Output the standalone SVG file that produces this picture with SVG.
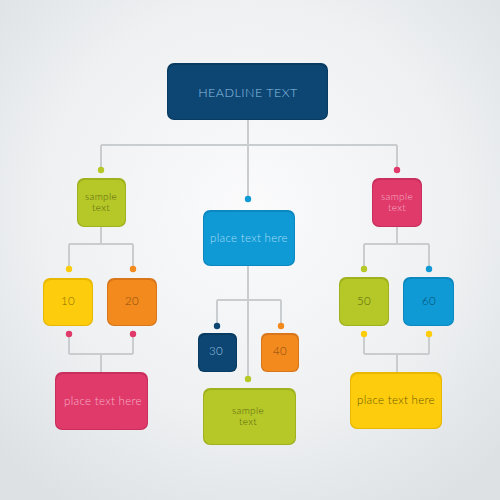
<svg xmlns="http://www.w3.org/2000/svg" width="500" height="500" viewBox="0 0 500 500">
<defs>
<radialGradient id="bg" cx="0.5" cy="0.42" r="0.7">
<stop offset="0" stop-color="#fbfbfc"/>
<stop offset="0.6" stop-color="#eef0f2"/>
<stop offset="1" stop-color="#dde1e4"/>
</radialGradient>
</defs>
<style>
.ln{stroke:#c9cdd0;stroke-width:2;fill:none}
text{font-family:Lato,"Open Sans","Liberation Sans",sans-serif;text-anchor:middle;font-weight:300}
.t9{font-size:10px;letter-spacing:0.3px}
.t10{font-size:11.5px;letter-spacing:0.3px}
</style>
<rect width="500" height="500" fill="url(#bg)"/>
<g id="connectors">
<path class="ln" d="M248 120V199M101 145H397M101 145V170M397 145V170"/>
<path class="ln" d="M101 227V244M69 244H133M69 244V269M133 244V269"/>
<path class="ln" d="M397 227V244M364 244H429M364 244V269M429 244V269"/>
<path class="ln" d="M248 266V379M217 300H281M217 300V326M281 300V326"/>
<path class="ln" d="M69 334V354M133 334V354M69 354H133M101 354V372"/>
<path class="ln" d="M364 334V354M429 334V354M364 354H429M397 354V372"/>
<circle cx="101" cy="170" r="3.2" fill="#b5c827"/>
<circle cx="248" cy="199" r="3.2" fill="#0f9ad6"/>
<circle cx="397" cy="170" r="3.2" fill="#e03a6b"/>
<circle cx="69" cy="269" r="3.2" fill="#fdcc0c"/>
<circle cx="133" cy="269" r="3.2" fill="#f28a1d"/>
<circle cx="364" cy="269" r="3.2" fill="#b5c827"/>
<circle cx="429" cy="269" r="3.2" fill="#0f9ad6"/>
<circle cx="69" cy="334" r="3.2" fill="#e03a6b"/>
<circle cx="133" cy="334" r="3.2" fill="#e03a6b"/>
<circle cx="364" cy="334" r="3.2" fill="#fdcc0c"/>
<circle cx="429" cy="334" r="3.2" fill="#fdcc0c"/>
<circle cx="217" cy="326" r="3.2" fill="#0d4673"/>
<circle cx="281" cy="326" r="3.2" fill="#f28a1d"/>
<circle cx="248" cy="379" r="3.2" fill="#b5c827"/>
</g>
<g id="headline">
<rect x="167" y="63" width="161" height="57" rx="7" fill="#083b61"/>
<rect x="168" y="65" width="159" height="54" rx="7" fill="#0d4673"/>
<text x="248" y="97" font-size="12.5" fill="#8ec0e2" style="letter-spacing:0.5px">HEADLINE TEXT</text>
</g>
<g id="n-left">
<rect x="77" y="178" width="49" height="49" rx="7" fill="#9fb21e"/>
<rect x="78" y="180" width="47" height="46" rx="7" fill="#b5c827"/>
<text class="t9" x="101" y="200" fill="#5a6610">sample</text>
<text class="t9" x="101" y="211" fill="#5a6610">text</text>
</g>
<g id="n-center">
<rect x="203" y="210" width="92" height="56" rx="7" fill="#0b88c0"/>
<rect x="204" y="212" width="90" height="53" rx="7" fill="#0f9ad6"/>
<text class="t10" x="249" y="242" fill="#a8dcf4">place text here</text>
</g>
<g id="n-right">
<rect x="372" y="178" width="50" height="49" rx="7" fill="#c92f5d"/>
<rect x="373" y="180" width="48" height="46" rx="7" fill="#e03a6b"/>
<text class="t9" x="397" y="200" fill="#f6b0c6">sample</text>
<text class="t9" x="397" y="211" fill="#f6b0c6">text</text>
</g>
<g id="n-10">
<rect x="43" y="278" width="50" height="48" rx="7" fill="#e8b800"/>
<rect x="44" y="280" width="48" height="45" rx="7" fill="#fdcc0c"/>
<text class="t10" x="68" y="305" fill="#8a6e00">10</text>
</g>
<g id="n-20">
<rect x="107" y="278" width="50" height="48" rx="7" fill="#d9761a"/>
<rect x="108" y="280" width="48" height="45" rx="7" fill="#f28a1d"/>
<text class="t10" x="132" y="305" fill="#8a4a10">20</text>
</g>
<g id="n-50">
<rect x="339" y="277" width="50" height="49" rx="7" fill="#9fb21e"/>
<rect x="340" y="279" width="48" height="46" rx="7" fill="#b5c827"/>
<text class="t10" x="364" y="305" fill="#5a6610">50</text>
</g>
<g id="n-60">
<rect x="403" y="277" width="51" height="49" rx="7" fill="#0b88c0"/>
<rect x="404" y="279" width="49" height="46" rx="7" fill="#0f9ad6"/>
<text class="t10" x="429" y="305" fill="#0a4a6e">60</text>
</g>
<g id="n-30">
<rect x="198" y="333" width="39" height="39" rx="6" fill="#083b61"/>
<rect x="199" y="335" width="37" height="36" rx="6" fill="#0d4673"/>
<text class="t10" x="216" y="355" fill="#9cc3e0">30</text>
</g>
<g id="n-40">
<rect x="261" y="333" width="38" height="39" rx="6" fill="#d9761a"/>
<rect x="262" y="335" width="36" height="36" rx="6" fill="#f28a1d"/>
<text class="t10" x="280" y="355" fill="#8a4a10">40</text>
</g>
<g id="n-pink-bottom">
<rect x="55" y="372" width="93" height="58" rx="7" fill="#c92f5d"/>
<rect x="56" y="374" width="91" height="55" rx="7" fill="#e03a6b"/>
<text class="t10" x="103" y="405" fill="#f6b0c6">place text here</text>
</g>
<g id="n-green-bottom">
<rect x="203" y="388" width="93" height="57" rx="7" fill="#9fb21e"/>
<rect x="204" y="390" width="91" height="54" rx="7" fill="#b5c827"/>
<text class="t9" x="248" y="414" fill="#5a6610">sample</text>
<text class="t9" x="248" y="425" fill="#5a6610">text</text>
</g>
<g id="n-yellow-bottom">
<rect x="350" y="372" width="92" height="57" rx="7" fill="#e8b800"/>
<rect x="351" y="374" width="90" height="54" rx="7" fill="#fdcc0c"/>
<text class="t10" x="396" y="404" fill="#6b5a00">place text here</text>
</g>
</svg>
